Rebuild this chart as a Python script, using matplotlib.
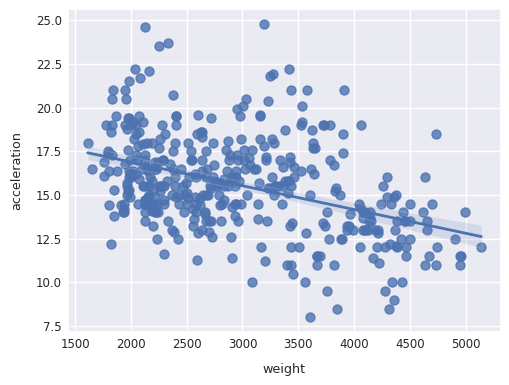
import matplotlib
matplotlib.use("Agg")
import matplotlib.pyplot as plt
import numpy as np
import seaborn as sns

# car weight (lbs)
weight = [3504, 3693, 3436, 3433, 3449, 4341, 4354, 4312, 4425, 3850, 3563, 3609, 3761, 3086, 2372, 2833, 2774, 2587, 2130, 1835,
          2672, 2430, 2375, 2234, 2648, 4615, 4376, 4382, 4732,
          2130, 2264, 2228, 2046, 2634, 3439, 3329, 3302, 3288, 4209, 4464, 4154, 4096, 4955, 4746, 5140, 2962, 2408, 3282, 3139,
          2220, 2123, 2074, 2065, 1773, 1613, 1834, 1955,
          2278, 2126, 2254, 2408, 2226, 4274, 4385, 4135, 4129, 3672, 4633, 4502, 4456, 4422, 2330, 3892, 4098, 4294, 4077, 2933,
          2511, 2979, 2189, 2395, 2288, 2506, 2164, 2100,
          4100, 3672, 3988, 4042, 3777, 4952, 4464, 4363, 4237, 4735, 4951, 3821, 3121, 3278, 2945, 3021, 2904, 1950, 4997, 4906,
          4654, 4499, 2789, 2279, 2401, 2379, 2124, 2310, 2472, 2265, 4082, 4278, 1867, 2158, 2582, 2868, 3399, 2660, 2807, 3664,
          3102, 2875, 2901, 3336, 1950, 2451, 1836, 2542, 3781, 3632, 3613, 4141, 4699, 4457, 4638, 4257, 2219, 1963, 2300, 1649,
          2003, 2125, 2108, 2246, 2489, 2391, 2000,
          3264, 3459, 3432, 3158, 4668, 4440, 4498, 4657, 3907, 3897, 3730, 3785, 3039, 3221, 3169, 2171, 2639, 2914, 2592, 2702,
          2223, 2545, 2984, 1937, 3211, 2694, 2957, 2945, 2671, 1795,
          2464, 2220, 2572, 2255, 2202, 4215, 4190, 3962, 4215, 3233, 3353, 3012, 3085, 2035, 2164, 1937, 1795, 3651, 3574, 3645,
          3193, 1825, 1990, 2155, 2565, 3150, 3940, 3270, 2930, 3820, 4380, 4055, 3870, 3755,
          2045, 2155, 1825, 2300, 1945, 3880, 4060, 4140, 4295, 3520, 3425, 3630, 3525, 4220, 4165, 4325, 4335, 1940, 2740, 2265,
          2755, 2051, 2075, 1985, 2190, 2815, 2600, 2720,
          1985, 1800, 1985, 2070, 1800, 3365, 3735, 3570, 3535, 3155, 2965, 2720, 3430, 3210, 3380, 3070, 3620, 3410, 3425, 3445,
          3205, 4080, 2155, 2560, 2300, 2230, 2515, 2745, 2855, 2405, 2830, 3140, 2795, 3410, 1990, 2135,
          3245, 2990, 2890, 3265, 3360, 3840, 3725, 3955, 3830, 4360, 4054, 3605, 3940, 1925, 1975, 1915, 2670, 3530, 3900, 3190,
          3420, 2200, 2150, 2020, 2130, 2670, 2595, 2700, 2556,
          2144, 1968, 2120, 2019, 2678, 2870, 3003, 3381, 2188, 2711, 2542, 2434, 2265, 2110, 2800, 2110, 2085, 2335, 2950, 3250,
          1850, 1835, 2145, 1845, 2910, 2420, 2500, 2905, 2290,
          2490, 2635, 2620, 2725, 2385, 1755, 1875, 1760, 2065, 1975, 2050, 1985, 2215, 2045, 2380, 2190, 2320, 2210, 2350, 2615,
          2635, 3230, 3160, 2900, 2930, 3415, 3725, 3060, 3465,
          2605, 2640, 2395, 2575, 2525, 2735, 2865, 3035, 1980, 2025, 1970, 2125, 2125, 2160, 2205, 2245, 1965, 1965, 1995, 2945,
          3015, 2585, 2835, 2665, 2370, 2950, 2790, 2130, 2295, 2625, 2720]

# acceleration (s), same order as weight
acceleration = [12.0, 11.5, 11.0, 12.0, 10.5, 10.0, 9.0, 8.5, 10.0, 8.5, 10.0, 8.0, 9.5, 10.0, 15.0, 15.5, 15.5, 16.0, 14.5, 20.5,
                17.5, 14.5, 17.5, 12.5, 15.0, 14.0, 15.0, 13.5, 18.5,
                14.5, 15.5, 14.0, 19.0, 13.0, 15.5, 15.5, 15.5, 15.5, 12.0, 11.5, 13.5, 13.0, 11.5, 12.0, 12.0, 13.5, 19.0, 15.0, 14.5,
                14.0, 14.0, 19.5, 14.5, 19.0, 18.0, 19.0, 20.5,
                15.5, 17.0, 23.5, 19.5, 16.5, 12.0, 12.0, 13.5, 13.0, 11.5, 11.0, 13.5, 13.5, 12.5, 13.5, 12.5, 14.0, 16.0, 14.0, 14.5,
                18.0, 19.5, 18.0, 16.0, 17.0, 14.5, 15.0, 16.5,
                13.0, 11.5, 13.0, 14.5, 12.5, 11.5, 12.0, 13.0, 14.5, 11.0, 11.0, 11.0, 16.5, 18.0, 16.0, 16.5, 16.0, 21.0, 14.0, 12.5,
                13.0, 12.5, 15.0, 19.0, 19.5, 16.5, 13.5, 18.5, 14.0, 15.5, 13.0, 9.5, 19.5, 15.5, 14.0, 15.5, 11.0, 14.0, 13.5, 11.0,
                16.5, 17.0, 16.0, 17.0, 19.0, 16.5, 21.0, 17.0, 17.0, 18.0, 16.5, 14.0, 14.5, 13.5, 16.0, 15.5, 16.5, 15.5, 14.5, 16.5,
                19.0, 14.5, 15.5, 14.0, 15.0, 15.5, 16.0,
                16.0, 16.0, 21.0, 19.5, 11.5, 14.0, 14.5, 13.5, 21.0, 18.5, 19.0, 19.0, 15.0, 13.5, 12.0, 16.0, 17.0, 16.0, 18.5, 13.5,
                16.5, 17.0, 14.5, 14.0, 17.0, 15.0, 17.0, 14.5, 13.5, 17.5,
                15.5, 16.9, 14.9, 17.7, 15.3, 13.0, 13.0, 13.9, 12.8, 15.4, 14.5, 17.6, 17.6, 22.2, 22.1, 14.2, 17.4, 17.7, 21.0, 16.2,
                17.8, 12.2, 17.0, 16.4, 13.6, 15.7, 13.2, 21.9, 15.5, 16.7, 12.1, 12.0, 15.0, 14.0,
                18.5, 14.8, 18.6, 15.5, 16.8, 12.5, 19.0, 13.7, 14.9, 16.4, 16.9, 17.7, 19.0, 11.1, 11.4, 12.2, 14.5, 14.5, 16.0, 18.2,
                15.8, 17.0, 15.9, 16.4, 14.1, 14.5, 12.8, 13.5,
                21.5, 14.4, 19.4, 18.6, 16.4, 15.5, 13.2, 12.8, 19.2, 18.2, 15.8, 15.4, 17.2, 17.2, 15.8, 16.7, 18.7, 15.1, 13.2, 13.4,
                11.2, 13.7, 16.5, 14.2, 14.7, 14.5, 14.8, 16.7, 17.6, 14.9, 15.9, 13.6, 15.7, 15.8, 14.9, 16.6,
                15.4, 18.2, 17.3, 18.2, 16.6, 15.4, 13.4, 13.2, 15.2, 14.9, 14.3, 15.0, 13.0, 14.0, 15.2, 14.4, 15.0, 20.1, 17.4, 24.8,
                22.2, 13.2, 14.9, 19.2, 14.7, 16.0, 11.3, 12.9, 13.2,
                14.7, 18.8, 15.5, 16.4, 16.5, 18.1, 20.1, 18.7, 15.8, 15.5, 17.5, 15.0, 15.2, 17.9, 14.4, 19.2, 21.7, 23.7, 19.9, 21.8,
                13.8, 17.3, 18.0, 15.3, 11.4, 12.5, 15.1, 14.3, 17.0,
                15.7, 16.4, 14.4, 12.6, 12.9, 16.9, 16.4, 16.1, 17.8, 19.4, 17.3, 16.0, 14.9, 16.2, 20.7, 14.2, 15.8, 14.4, 16.8, 14.8,
                18.3, 20.4, 19.6, 12.6, 13.8, 15.8, 19.0, 17.1, 16.6,
                19.6, 18.6, 18.0, 16.2, 16.0, 18.0, 16.4, 20.5, 15.3, 18.2, 17.6, 14.7, 17.3, 14.5, 14.5, 16.9, 15.0, 15.7, 16.2, 16.4,
                17.0, 14.5, 14.7, 13.9, 13.0, 17.3, 15.6, 24.6, 11.6, 18.6, 19.4]

sns.set_theme()

fig = plt.figure(figsize=(5.1, 3.85), dpi=100)
ax = fig.add_axes([68 / 510, 1 - 332 / 385, 433 / 510, 323 / 385])

sns.regplot(x=np.array(weight), y=np.array(acceleration), ax=ax, seed=0,
            scatter_kws={'s': 42}, line_kws={'lw': 2.0})

ax.set_xlabel('weight', fontsize=9.2, labelpad=9)
ax.set_ylabel('acceleration', fontsize=9.2, labelpad=9)
ax.tick_params(labelsize=8.5, length=0, pad=4.3)

fig.savefig('out.png', dpi=100)
